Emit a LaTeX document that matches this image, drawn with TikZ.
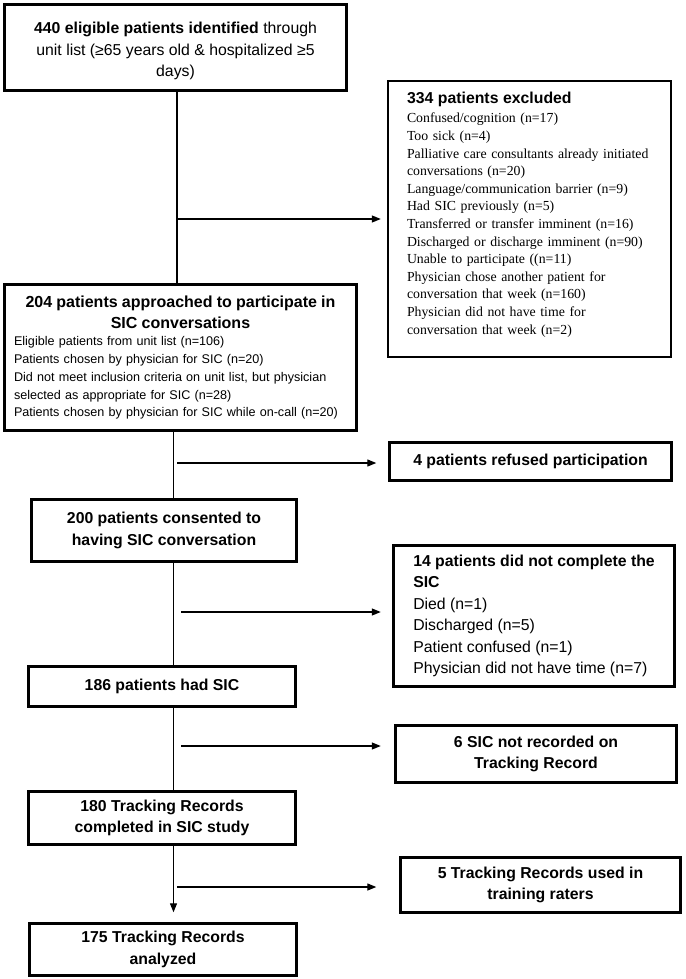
\documentclass[tikz,border=0pt]{standalone}
\usepackage{fontspec}
\setmainfont{Liberation Sans}
\newfontfamily\exclfont{Liberation Serif}
\usetikzlibrary{arrows.meta}

\newcommand{\flowfont}{\fontsize{15.8}{21.5}\selectfont}

\begin{document}
\begin{tikzpicture}[x=1pt, y=-1pt, >={Triangle[length=9pt,width=7pt]},
    box/.style={draw, line width=2.4pt, inner sep=0pt, align=center, font=\flowfont},
    head/.style={box, font=\flowfont\bfseries},
    flow/.style={line width=1.2pt}]

    % Page frame
    \useasboundingbox (0,0) rectangle (685,979);
    \coordinate (spineA) at (177,0);
    \coordinate (spineB) at (173.5,0);

    % Main column
    \node[box, minimum width=342pt, minimum height=86pt] (eligible) at (175.5,47.5)
        {\rule{0pt}{19pt}\textbf{440 eligible patients identified} through\\
         unit list (≥65 years old \& hospitalized ≥5\\ days)};
    \node[box, minimum width=352pt, minimum height=146pt, text width=333pt, align=left,
        font=\fontsize{12.6}{17.75}\selectfont] (approached) at (180.5,357.5)
        {{\centering\fontsize{16}{21}\selectfont\bfseries
          204 patients approached to participate in\\ SIC conversations\par}
         Eligible patients from unit list (n=106)\\
         Patients chosen by physician for SIC (n=20)\\
         Did not meet inclusion criteria on unit list, but physician\\
         selected as appropriate for SIC (n=28)\\
         Patients chosen by physician for SIC while on-call (n=20)};
    \node[head, minimum width=265pt, minimum height=62pt] (consented) at (164,530.5)
        {200 patients consented to\\ having SIC conversation};
    \node[head, minimum width=267pt, minimum height=40pt] (hadsic) at (162,686.5)
        {186 patients had SIC};
    \node[head, minimum width=267pt, minimum height=53pt] (completed) at (162,818)
        {180 Tracking Records\\ completed in SIC study};
    \node[head, minimum width=267pt, minimum height=52pt] (analyzed) at (163,949.5)
        {175 Tracking Records\\ analyzed};

    % Side boxes
    \node[box, minimum width=283pt, minimum height=276pt, text width=245pt, align=left,
        font=\exclfont\fontsize{13.8}{17.6}\selectfont] (excluded) at (529.5,219)
        {{\rmfamily\bfseries\fontsize{15.8}{17.6}\selectfont 334 patients excluded}\\[2pt]
         Confused/cognition (n=17)\\
         Too sick (n=4)\\
         Palliative care consultants already initiated\\
         conversations (n=20)\\
         Language/communication barrier (n=9)\\
         Had SIC previously (n=5)\\
         Transferred or transfer imminent (n=16)\\
         Discharged or discharge imminent (n=90)\\
         Unable to participate ((n=11)\\
         Physician chose another patient for\\
         conversation that week (n=160)\\
         Physician did not have time for\\
         conversation that week (n=2)\rule[-12pt]{0pt}{12pt}};
    \node[head, minimum width=282pt, minimum height=38pt] (refused) at (530.5,461.5)
        {4 patients refused participation};
    \node[box, minimum width=281pt, minimum height=141pt, align=left] (incomplete) at (534,616)
        {\textbf{14 patients did not complete the}\\
         \textbf{SIC}\\
         Died (n=1)\\
         Discharged (n=5)\\
         Patient confused (n=1)\\
         Physician did not have time (n=7)};
    \node[head, minimum width=281pt, minimum height=57pt] (notrec) at (536,754)
        {6 SIC not recorded on\\ Tracking Record};
    \node[head, minimum width=280pt, minimum height=55pt] (training) at (540.5,885)
        {5 Tracking Records used in\\ training raters};

    % Spine
    \draw[flow] (eligible.south -| spineA) -- (approached.north -| spineA);
    \draw[flow] (approached.south -| spineB) -- (consented.north -| spineB);
    \draw[flow] (consented.south -| spineB) -- (hadsic.north -| spineB);
    \draw[flow] (hadsic.south -| spineB) -- (completed.north -| spineB);
    \draw[flow,->, shorten >=10pt] (completed.south -| spineB) -- (analyzed.north -| spineB);

    % Exclusion arrows
    \coordinate (t1) at (177,219);
    \coordinate (t2) at (177,463);
    \coordinate (t3) at (181,612);
    \coordinate (t4) at (181,746);
    \coordinate (t5) at (177,887);
    \draw[flow,->, shorten >=6pt] (t1) -- (t1 -| excluded.west);
    \draw[flow,->, shorten >=12pt] (t2) -- (t2 -| refused.west);
    \draw[flow,->, shorten >=11.5pt] (t3) -- (t3 -| incomplete.west);
    \draw[flow,->, shorten >=13.5pt] (t4) -- (t4 -| notrec.west);
    \draw[flow,->, shorten >=23pt] (t5) -- (t5 -| training.west);
\end{tikzpicture}
\end{document}
